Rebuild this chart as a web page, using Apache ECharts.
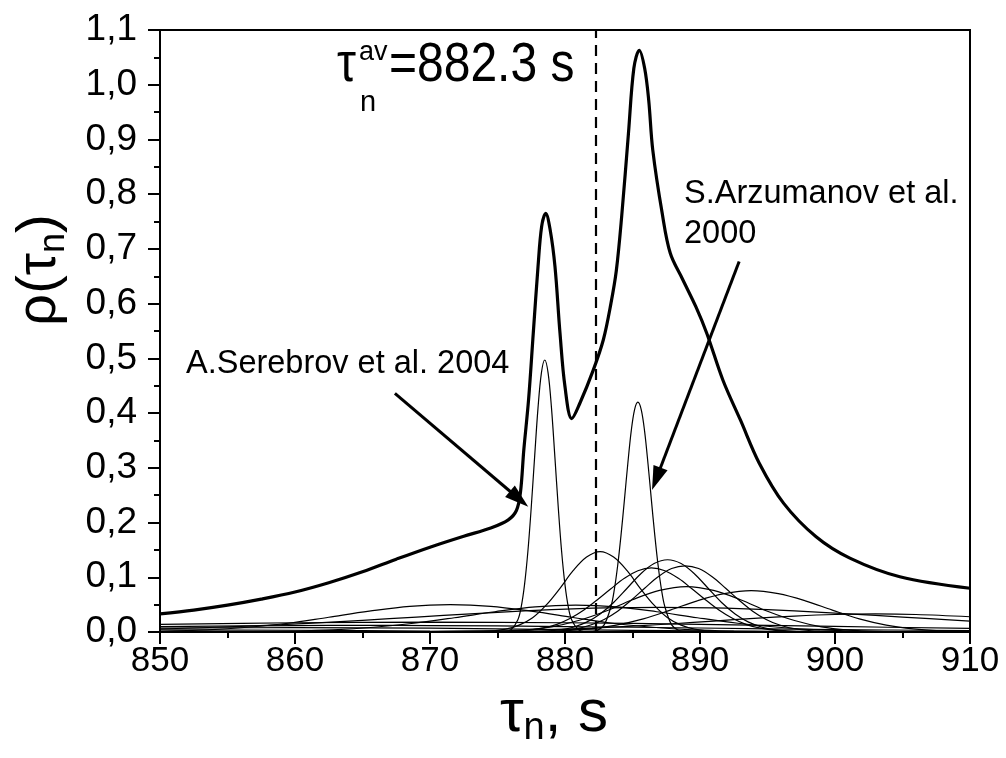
<!DOCTYPE html>
<html><head><meta charset="utf-8">
<script src="https://cdn.jsdelivr.net/npm/echarts@6/dist/echarts.min.js"></script>
<style>html,body{margin:0;padding:0;background:#fff}#c{width:1006px;height:758px}</style>
</head><body><div id="c"></div>
<script>
// ---- axis ranges / ticks ----
const xRange = [850, 910], xStep = 10;
const yRange = [0, 1.1], yStep = 0.1;
const tauAv = 882.3;

// ---- thick envelope curve ----
const envelope = [[850,0.033],[852.5,0.040],[855,0.049],[857.5,0.060],[860,0.073],[862.5,0.090],[865,0.110],
 [867.5,0.133],[870,0.155],[872.5,0.175],[874.5,0.190],[875.8,0.205],[876.4,0.222],[876.7,0.255],[876.95,0.333],
 [877.3,0.424],[877.65,0.546],[878.0,0.667],[878.27,0.741],[878.57,0.765],[878.9,0.735],[879.26,0.667],[879.63,0.546],
 [880.0,0.448],[880.5,0.390],[881.1,0.418],[882.1,0.479],[882.84,0.534],[883.4,0.600],[883.8,0.66],[884.2,0.76],
 [884.7,0.911],[885.1,1.03],[885.5,1.063],[885.9,1.03],[886.2,0.972],[886.5,0.881],[887.2,0.765],[887.8,0.692],
 [888.7,0.645],[889.7,0.594],[890.5,0.546],[891.7,0.460],[893.0,0.387],[894.4,0.308],[896.2,0.235],[898.6,0.174],
 [901.1,0.135],[904.8,0.101],[910,0.080]];

// ---- individual thin curves ----
const serebrov = [[850,0],[875.5,0.0004],[876,0.004],[876.5,0.022],[876.75,0.045],[877,0.086],[877.25,0.147],[877.5,0.228],
 [877.75,0.320],[878,0.409],[878.25,0.473],[878.5,0.497],[878.75,0.473],[879,0.409],[879.25,0.320],[879.5,0.228],
 [879.75,0.147],[880,0.086],[880.25,0.045],[880.5,0.022],[881,0.004],[881.5,0.0004],[910,0]];
const arzumanov = [[850,0],[881.9,0.0005],[882.4,0.003],[882.9,0.013],[883.4,0.046],[883.65,0.077],[883.9,0.121],[884.15,0.177],
 [884.4,0.241],[884.65,0.307],[884.9,0.366],[885.15,0.406],[885.4,0.42],[885.65,0.406],[885.9,0.366],[886.15,0.307],
 [886.4,0.241],[886.65,0.177],[886.9,0.121],[887.15,0.077],[887.4,0.046],[887.9,0.013],[888.4,0.003],[888.9,0.0005],[910,0]];
const curveA = [[850,0],[872.6,0.0001],[874.6,0.0018],[875.6,0.0051],[876.6,0.0125],[877.6,0.026],[878.6,0.049],[879.6,0.079],
 [880.6,0.112],[881.6,0.137],[882.6,0.147],[883.6,0.137],[884.6,0.112],[885.6,0.079],[886.6,0.049],[887.6,0.026],
 [888.6,0.0125],[889.6,0.0051],[890.6,0.0018],[892.6,0.0001],[910,0]];
const curveB = [[850,0],[877.6,0.0005],[879.6,0.0038],[880.6,0.0087],[881.6,0.018],[882.6,0.033],[883.6,0.054],[884.6,0.080],
 [885.6,0.106],[886.6,0.125],[887.6,0.132],[888.6,0.125],[889.6,0.106],[890.6,0.080],[891.6,0.054],[892.6,0.033],
 [893.6,0.018],[894.6,0.0087],[895.6,0.0038],[897.6,0.0005],[910,0]];
const curveC = [[850,0],[878.9,0.0012],[880.9,0.0064],[881.9,0.0127],[882.9,0.023],[883.9,0.038],[884.9,0.058],[885.9,0.080],
 [886.9,0.101],[887.9,0.116],[888.9,0.121],[889.9,0.116],[890.9,0.101],[891.9,0.080],[892.9,0.058],[893.9,0.038],
 [894.9,0.023],[895.9,0.0127],[896.9,0.0064],[898.9,0.0012],[910,0]];
const curveD = [[850,0],[876.4,0.0015],[878.4,0.0074],[879.4,0.014],[880.4,0.025],[881.4,0.040],[882.4,0.059],[883.4,0.079],
 [884.4,0.098],[885.4,0.112],[886.4,0.117],[887.4,0.112],[888.4,0.098],[889.4,0.079],[890.4,0.059],[891.4,0.040],
 [892.4,0.025],[893.4,0.014],[894.4,0.0074],[896.4,0.0015],[910,0]];
const curveE = [[850,0],[875,0.0012],[877,0.0036],[879,0.0094],[881,0.021],[883,0.038],[885,0.059],[887,0.076],[889,0.083],
 [891,0.076],[893,0.059],[895,0.038],[897,0.021],[899,0.0094],[901,0.0036],[903,0.0012],[910,0]];
const curveF = [[850,0],[877.8,0.0008],[879.8,0.0023],[881.8,0.0058],[883.8,0.0127],[885.8,0.024],[887.8,0.040],[889.8,0.057],
 [891.8,0.070],[893.8,0.0755],[895.8,0.070],[897.8,0.057],[899.8,0.040],[901.8,0.024],[903.8,0.0127],[905.8,0.0058],
 [907.8,0.0023],[909.8,0.0008]];
const broad1 = [[850,0.0014],[853.5,0.004],[856.5,0.0087],[859.5,0.016],[862.5,0.027],[865.5,0.038],[868.5,0.047],[871.5,0.050],
 [874.5,0.047],[877.5,0.038],[880.5,0.027],[883.5,0.016],[886.5,0.0087],[889.5,0.004],[892.5,0.0017],[895.5,0.0006],[898.5,0.0002],[910,0]];
const broad2 = [[850,0],[856.8,0.0006],[859.8,0.0017],[862.8,0.004],[865.8,0.0087],[868.8,0.016],[871.8,0.026],[874.8,0.037],
 [877.8,0.046],[880.8,0.049],[883.8,0.046],[886.8,0.037],[889.8,0.026],[892.8,0.016],[895.8,0.0087],[898.8,0.004],
 [901.8,0.0017],[904.8,0.0006],[910,0]];
const broad3 = [[850,0.0055],[855,0.0093],[859,0.0134],[863,0.0185],[867,0.0243],[871,0.0303],[875,0.036],[879,0.0408],
 [883,0.0439],[887,0.045],[891,0.0439],[895,0.0408],[899,0.036],[903,0.0303],[907,0.0243],[910,0.020]];
const broad4 = [[850,0],[867,0.0004],[873,0.0015],[876,0.0026],[879,0.0045],[882,0.0071],[885,0.0107],[888,0.0151],[891,0.020],
 [894,0.0249],[897,0.0291],[900,0.032],[903,0.033],[906,0.032],[910,0.0279]];
const low1 = [[850,0.014],[860,0.0169],[870,0.018],[880,0.0169],[890,0.014],[900,0.0101],[910,0.0065]];
const low2 = [[850,0.010],[860,0.0118],[865,0.012],[870,0.0118],[880,0.010],[890,0.0073],[900,0.0045],[910,0.0024]];
const low3 = [[850,0.0069],[860,0.008],[870,0.0069],[880,0.0043],[890,0.002],[900,0.0007],[910,0.0002]];
const low4 = [[850,0.004],[860,0.0032],[870,0.0016],[880,0.0005],[890,0.0001],[900,0],[910,0]];

const thinCurves = [serebrov, arzumanov, curveA, curveB, curveC, curveD, curveE, curveF,
  broad1, broad2, broad3, broad4, low1, low2, low3, low4];

// ---- annotation arrows (data coordinates: tail, head) ----
const serebrovArrow = [[867.4, 0.436], [876.6, 0.243]];
const arzumanovArrow = [[892.9, 0.677], [886.76, 0.280]];

const FONT = '"Liberation Sans", Arial, sans-serif';
const chart = echarts.init(document.getElementById('c'), null, {renderer: 'canvas'});

const axisCommon = {
  axisLine: {onZero: false, lineStyle: {color: '#000', width: 2}},
  axisTick: {length: 12, lineStyle: {color: '#000', width: 2}},
  minorTick: {show: true, splitNumber: 2, length: 6, lineStyle: {color: '#000', width: 2}},
  splitLine: {show: false},
  minorSplitLine: {show: false}
};

const series = thinCurves.map(d => ({
  type: 'line', data: d, smooth: 0.35, showSymbol: false, symbol: 'none',
  lineStyle: {color: '#000', width: 1.2}, z: 2, silent: true
}));
series.push({
  type: 'line', data: envelope, smooth: 0.35, showSymbol: false, symbol: 'none',
  lineStyle: {color: '#000', width: 3.2}, z: 3, silent: true,
  markLine: {
    silent: true, animation: false,
    label: {show: false},
    data: [
      {xAxis: tauAv, symbol: 'none', lineStyle: {type: [11, 7], width: 2.2, color: '#000'}},
      [{coord: serebrovArrow[0], symbol: 'none'}, {coord: serebrovArrow[1], symbol: 'triangle', symbolSize: [15, 24]}],
      [{coord: arzumanovArrow[0], symbol: 'none'}, {coord: arzumanovArrow[1], symbol: 'triangle', symbolSize: [15, 24]}]
    ],
    lineStyle: {color: '#000', width: 3, type: 'solid'},
    symbol: ['none', 'none']
  }
});

chart.setOption({
  animation: false,
  grid: {left: 160, right: 36, top: 30, bottom: 126, show: true, borderColor: '#000', borderWidth: 2},
  xAxis: Object.assign({
    type: 'value', min: xRange[0], max: xRange[1], interval: xStep,
    axisLabel: {fontSize: 35, color: '#000', margin: 12, fontFamily: FONT}
  }, axisCommon),
  yAxis: Object.assign({
    type: 'value', min: yRange[0], max: yRange[1], interval: yStep,
    axisLabel: {fontSize: 37, color: '#000', margin: 23, fontFamily: FONT,
      formatter: v => v.toFixed(1).replace('.', ',')}
  }, axisCommon),
  series: series,
  graphic: [
    {type: 'text', x: 40, y: 270, rotation: Math.PI / 2, silent: true,
      style: {text: '{a|ρ(τ}{s|n}{a|)}', textAlign: 'center', textVerticalAlign: 'middle',
        rich: {a: {fontSize: 56, fontFamily: FONT, fill: '#000'}, s: {fontSize: 36, fontFamily: FONT, fill: '#000', padding: [28, 0, 0, 0]}}}},
    {type: 'text', x: 554, y: 714, silent: true,
      style: {text: '{a|τ}{s|n}{a|, s}', textAlign: 'center', textVerticalAlign: 'middle',
        rich: {a: {fontSize: 60, fontFamily: FONT, fill: '#000'}, s: {fontSize: 38, fontFamily: FONT, fill: '#000', padding: [30, 0, 0, 0]}}}},
    {type: 'text', x: 337, y: 38, silent: true, scaleY: 1.16,
      style: {text: 'τ', fontSize: 48, fontFamily: FONT, fill: '#000', textVerticalAlign: 'top'}},
    {type: 'text', x: 359, y: 39, silent: true,
      style: {text: 'av', fontSize: 27, fontFamily: FONT, fill: '#000', textVerticalAlign: 'top'}},
    {type: 'text', x: 360, y: 88, silent: true,
      style: {text: 'n', fontSize: 29, fontFamily: FONT, fill: '#000', textVerticalAlign: 'top'}},
    {type: 'text', x: 389, y: 38, silent: true, scaleY: 1.16,
      style: {text: '=882.3 s', fontSize: 48, fontFamily: FONT, fill: '#000', textVerticalAlign: 'top'}},
    {type: 'text', x: 186, y: 348, silent: true,
      style: {text: 'A.Serebrov et al. 2004', fontSize: 32.5, fontFamily: FONT, fill: '#000', textVerticalAlign: 'top'}},
    {type: 'text', x: 684, y: 178, silent: true,
      style: {text: 'S.Arzumanov et al.', fontSize: 32.5, fontFamily: FONT, fill: '#000', textVerticalAlign: 'top'}},
    {type: 'text', x: 684, y: 218, silent: true,
      style: {text: '2000', fontSize: 32.5, fontFamily: FONT, fill: '#000', textVerticalAlign: 'top'}}
  ]
});
</script></body></html>
